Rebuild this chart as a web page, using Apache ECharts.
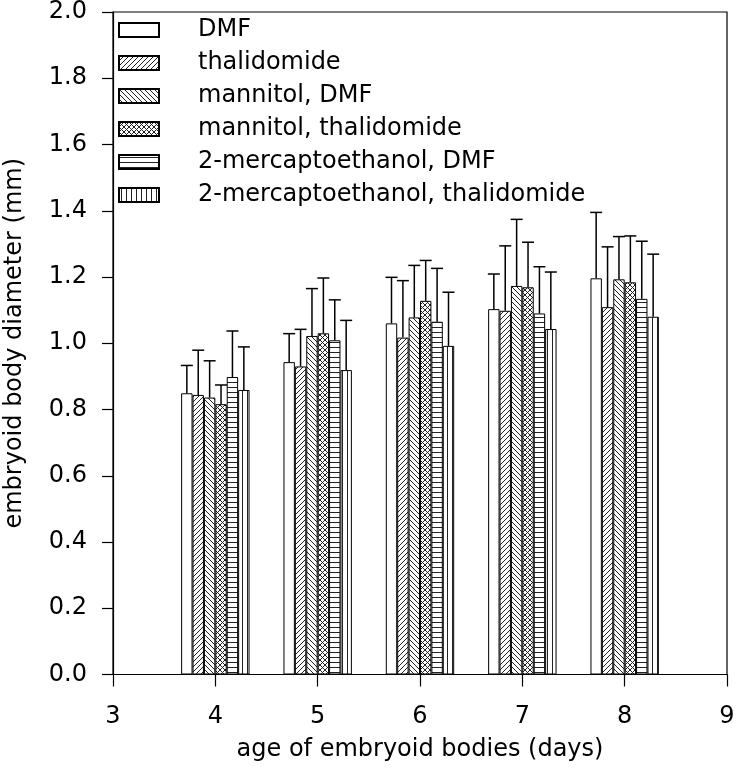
<!DOCTYPE html>
<html>
<head>
<meta charset="utf-8">
<script src="https://cdn.jsdelivr.net/npm/echarts@6/dist/echarts.min.js"></script>
<style>
  html, body { margin: 0; padding: 0; background: #fff; }
  #main { width: 750px; height: 779px; }
</style>
</head>
<body>
<div id="main"></div>
<script>
// days on the x axis
var days = [4, 5, 6, 7, 8];

// treatment groups
var groups = ['DMF', 'thalidomide', 'mannitol, DMF', 'mannitol, thalidomide',
  '2-mercaptoethanol, DMF', '2-mercaptoethanol, thalidomide'];

// mean diameters (mm), one array per group, day 4..8
var dmf       = [0.849, 0.943, 1.060, 1.103, 1.196];
var thal      = [0.844, 0.930, 1.017, 1.098, 1.109];
var mannDmf   = [0.836, 1.022, 1.078, 1.173, 1.193];
var mannThal  = [0.816, 1.030, 1.128, 1.169, 1.184];
var meDmf     = [0.898, 1.009, 1.065, 1.090, 1.134];
var meThal    = [0.859, 0.919, 0.992, 1.043, 1.080];

// upper error (sd), day 4..8
var dmfSd      = [0.084, 0.086, 0.139, 0.106, 0.199];
var thalSd     = [0.135, 0.112, 0.172, 0.196, 0.182];
var mannDmfSd  = [0.111, 0.143, 0.157, 0.201, 0.129];
var mannThalSd = [0.058, 0.167, 0.122, 0.136, 0.140];
var meDmfSd    = [0.139, 0.122, 0.161, 0.141, 0.174];
var meThalSd   = [0.130, 0.150, 0.162, 0.172, 0.189];

// y tick labels
var yTicks = [0.0, 0.2, 0.4, 0.6, 0.8, 1.0, 1.2, 1.4, 1.6, 1.8, 2.0];

var means = [dmf, thal, mannDmf, mannThal, meDmf, meThal];
var sds = [dmfSd, thalSd, mannDmfSd, mannThalSd, meDmfSd, meThalSd];
var hatch = ['none', 'fwd', 'back', 'cross', 'horiz', 'vert'];

var barW = 11.4;
var font = 'DejaVu Sans';

// small canvas hatch patterns
function makePattern(kind) {
  var s = 5;
  var c = document.createElement('canvas');
  c.width = s; c.height = s;
  var ctx = c.getContext('2d');
  ctx.fillStyle = '#fff';
  ctx.fillRect(0, 0, s, s);
  ctx.strokeStyle = '#222';
  ctx.lineWidth = 1;
  ctx.beginPath();
  if (kind == 'fwd' || kind == 'cross') {
    ctx.moveTo(-1, s + 1); ctx.lineTo(s + 1, -1);
    ctx.moveTo(-1, 1); ctx.lineTo(1, -1);
    ctx.moveTo(s - 1, s + 1); ctx.lineTo(s + 1, s - 1);
  }
  if (kind == 'back' || kind == 'cross') {
    ctx.moveTo(-1, -1); ctx.lineTo(s + 1, s + 1);
    ctx.moveTo(s - 1, -1); ctx.lineTo(s + 1, 1);
    ctx.moveTo(-1, s - 1); ctx.lineTo(1, s + 1);
  }
  if (kind == 'horiz') {
    ctx.moveTo(0, 2.5); ctx.lineTo(s, 2.5);
  }
  if (kind == 'vert') {
    ctx.moveTo(2.5, 0); ctx.lineTo(2.5, s);
  }
  ctx.stroke();
  if (kind == 'none') return '#fff';
  return { image: c, repeat: 'repeat' };
}

var series = [];
groups.forEach(function (name, i) {
  series.push({
    name: name,
    type: 'bar',
    barWidth: barW,
    barGap: '0%',
    data: days.map(function (d, k) { return [d, means[i][k]]; }),
    itemStyle: {
      color: makePattern(hatch[i]),
      borderColor: '#000',
      borderWidth: 1
    },
    z: 2
  });
});

// error bars (upper only)
groups.forEach(function (name, i) {
  series.push({
    type: 'custom',
    silent: true,
    z: 3,
    data: days.map(function (d, k) { return [d, means[i][k], means[i][k] + sds[i][k]]; }),
    renderItem: function (params, api) {
      var off = (i - 2.5) * barW;
      var lo = api.coord([api.value(0), api.value(1)]);
      var hi = api.coord([api.value(0), api.value(2)]);
      var x = lo[0] + off;
      var style = { stroke: '#000', lineWidth: 1.5 };
      return {
        type: 'group',
        children: [
          { type: 'line', shape: { x1: x, y1: lo[1], x2: x, y2: hi[1] }, style: style },
          { type: 'line', shape: { x1: x - 6, y1: hi[1], x2: x + 6, y2: hi[1] }, style: style }
        ]
      };
    }
  });
});

var chart = echarts.init(document.getElementById('main'));
chart.setOption({
  animation: false,
  backgroundColor: '#fff',
  grid: {
    left: 113, right: 23, top: 12, bottom: 104.5,
    outerBoundsMode: 'none',
    show: true, borderColor: '#000', borderWidth: 1.2
  },
  legend: {
    orient: 'vertical',
    left: 118, top: 18,
    padding: 0,
    itemWidth: 40, itemHeight: 14,
    itemGap: 9,
    icon: 'rect',
    selectedMode: false,
    data: groups,
    textStyle: {
      fontFamily: font, fontSize: 24, color: '#000',
      lineHeight: 24, padding: [0, 0, 0, 34]
    }
  },
  xAxis: {
    type: 'value',
    min: 3, max: 9, interval: 1,
    name: 'age of embryoid bodies (days)',
    nameLocation: 'middle',
    nameGap: 63,
    nameTextStyle: { fontFamily: font, fontSize: 24, color: '#000' },
    axisLine: { lineStyle: { color: '#000', width: 1.2 } },
    axisTick: { inside: false, length: 12, lineStyle: { color: '#000', width: 1.2 } },
    axisLabel: { fontFamily: font, fontSize: 24, color: '#000', margin: 30 },
    splitLine: { show: false }
  },
  yAxis: {
    type: 'value',
    min: yTicks[0], max: yTicks[yTicks.length - 1], interval: 0.2,
    name: 'embryoid body diameter (mm)',
    nameLocation: 'middle',
    nameGap: 86,
    nameTextStyle: { fontFamily: font, fontSize: 24, color: '#000' },
    axisLine: { lineStyle: { color: '#000', width: 1.2 } },
    axisTick: { inside: false, length: 11, lineStyle: { color: '#000', width: 1.2 } },
    axisLabel: {
      fontFamily: font, fontSize: 24, color: '#000', margin: 26,
      formatter: function (v) { return v.toFixed(1); }
    },
    splitLine: { show: false }
  },
  series: series
});
</script>
</body>
</html>
